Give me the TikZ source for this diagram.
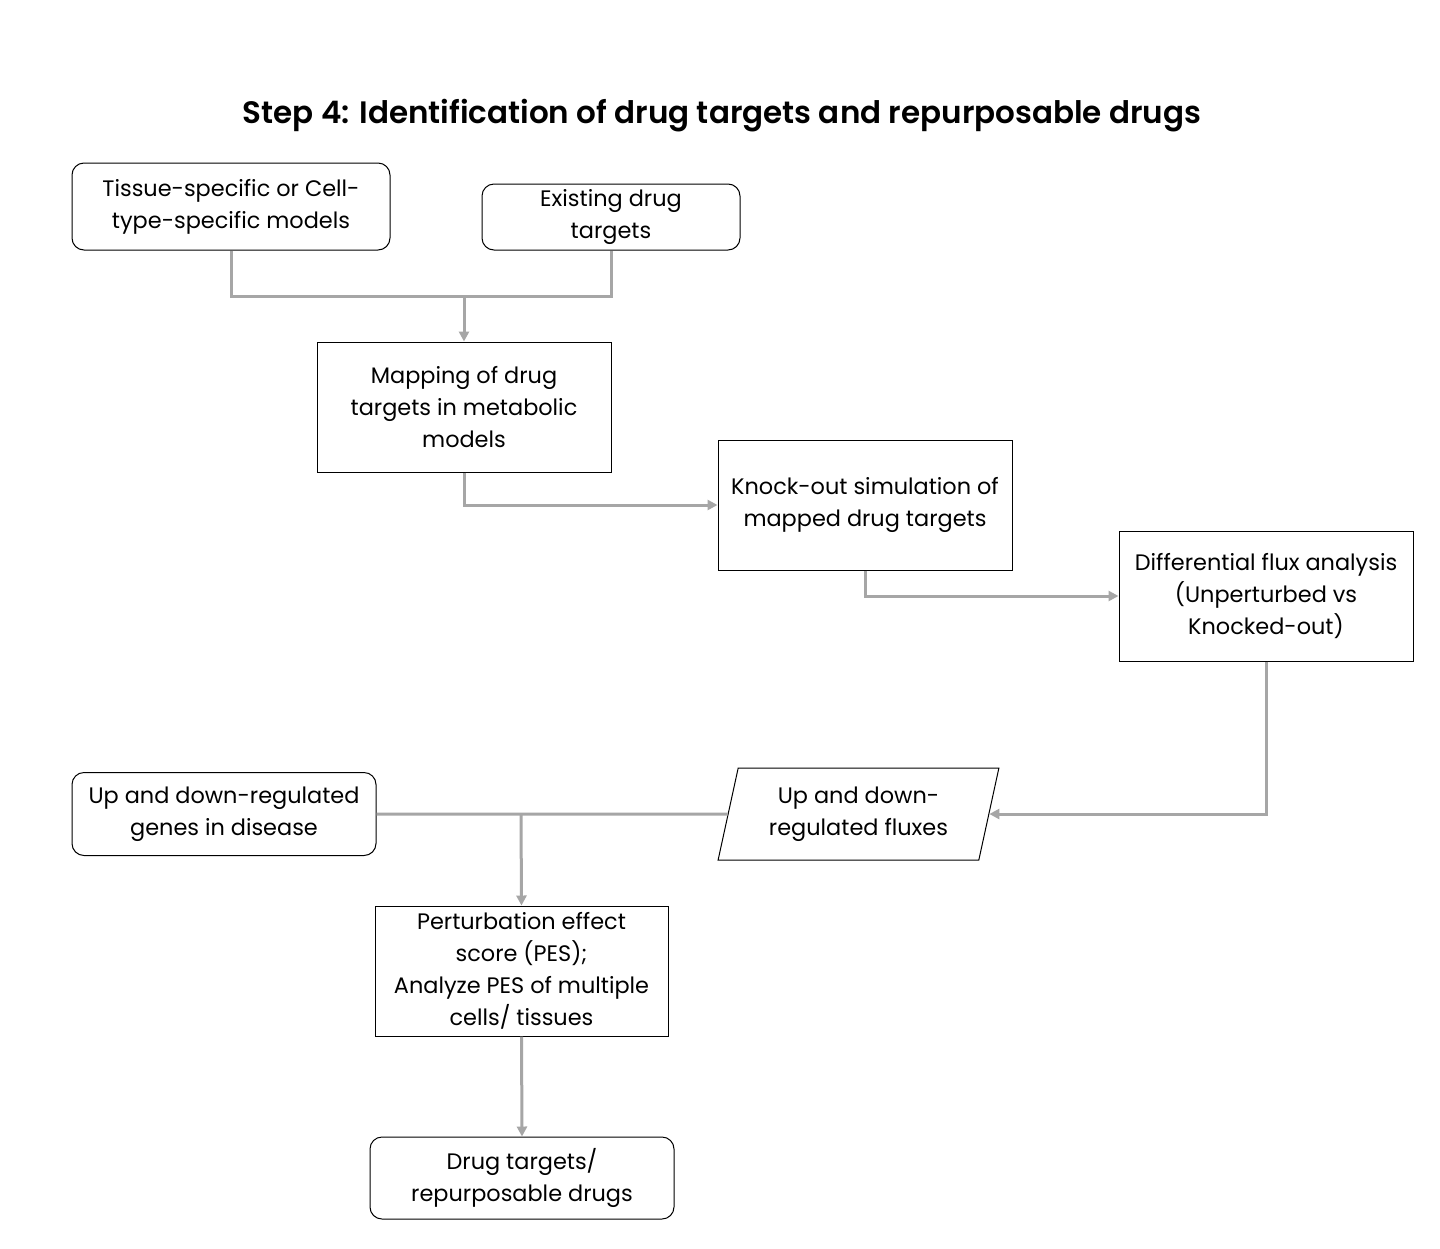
\documentclass[tikz,border=0pt]{standalone}
\usepackage{fontspec}
\setmainfont{Poppins}
\newfontfamily\titlefont{Poppins SemiBold}
\usetikzlibrary{arrows.meta,shapes.geometric}
\definecolor{linegray}{HTML}{A6A6A6}
\tikzset{
  boxbase/.style={draw=black, line width=0.5pt, align=center, font=\fontsize{11.2}{16}\selectfont, inner sep=2pt},
  rbox/.style={boxbase, rectangle, rounded corners=6pt},
  sbox/.style={boxbase, rectangle},
  pbox/.style={boxbase, trapezium, trapezium left angle=76, trapezium right angle=104, trapezium stretches=true},
  link/.style={draw=linegray, line width=1.5pt},
  arr/.style={link, -{Triangle[length=5pt,width=5pt]}},
}
\begin{document}
\begin{tikzpicture}[x=0.5pt,y=-0.5pt]
\useasboundingbox[fill=white] (0,0) rectangle (1440,1248);
\node[font=\titlefont\fontsize{15.5}{20}\selectfont] (title) at (722,116) {Step 4: Identification of drug targets and repurposable drugs};

\node[rbox, minimum width=159pt, minimum height=43.5pt] (A) at (231,206.5) {Tissue-specific or Cell-\\type-specific models};
\node[rbox, minimum width=129pt, minimum height=33pt] (B) at (611,217) {Existing drug\\targets};
\node[sbox, minimum width=147pt, minimum height=65pt] (C) at (464,407) {Mapping of drug\\targets in metabolic\\models};
\node[sbox, minimum width=147pt, minimum height=65pt] (D) at (865,505) {Knock-out simulation of\\mapped drug targets};
\node[sbox, minimum width=147pt, minimum height=65pt] (E) at (1266,596) {Differential flux analysis\\(Unperturbed vs\\Knocked-out)};
\node[pbox, minimum width=140.5pt, minimum height=46pt] (F) at (858.5,814) {Up and down-\\regulated fluxes};
\node[rbox, minimum width=152pt, minimum height=41.5pt] (G) at (224,814) {Up and down-regulated\\genes in disease};
\node[sbox, minimum width=146.5pt, minimum height=65pt] (H) at (521.5,971) {Perturbation effect\\score (PES);\\Analyze PES of multiple\\cells/ tissues};
\node[rbox, minimum width=152pt, minimum height=41pt] (I) at (522,1178) {Drug targets/\\repurposable drugs};

\coordinate (j1) at (464,296);
\coordinate (j2) at (521,814);
\draw[link] (A.south) |- (j1) -| (B.south);
\draw[arr] (j1) -- (C.north);
\draw[arr] (C.south) |- (D.west);
\draw[arr] (D.south) |- (E.west);
\draw[arr] (E.south) |- (F.east);
\draw[link] (G.east) -- (F.west);
\draw[arr] (j2) -- (H.north);
\draw[arr] (H.south) -- (I.north);
\end{tikzpicture}
\end{document}
